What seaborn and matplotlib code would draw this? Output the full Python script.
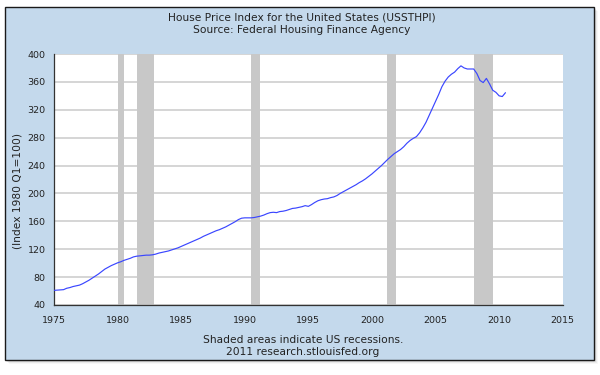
import numpy as np
import pandas as pd
import matplotlib
matplotlib.use('Agg')
import matplotlib.pyplot as plt
from matplotlib.patches import Rectangle
import seaborn as sns

# ========================================
# Данные (квартальные значения индекса, 1975Q1 - 2010Q3)
# ========================================
start_year = 1975
hpi = [
    61.0, 61.3, 61.6, 62.0,      # 1975
    64.0, 65.0, 66.5, 67.5,      # 1976
    68.5, 70.5, 73.0, 75.5,      # 1977
    78.5, 81.5, 84.5, 88.0,      # 1978
    91.5, 94.0, 96.5, 98.5,      # 1979
    100.5, 102.0, 104.0, 105.5,  # 1980
    107.0, 109.0, 110.0, 110.5,  # 1981
    111.0, 111.5, 111.5, 112.0,  # 1982
    113.0, 114.5, 115.5, 116.5,  # 1983
    117.5, 119.0, 120.5, 122.0,  # 1984
    124.0, 126.0, 128.0, 130.0,  # 1985
    132.0, 134.0, 136.0, 138.5,  # 1986
    140.5, 142.5, 144.5, 146.5,  # 1987
    148.0, 150.0, 152.0, 154.5,  # 1988
    157.0, 159.5, 162.5, 164.5,  # 1989
    165.0, 165.0, 165.0, 165.5,  # 1990
    166.5, 167.5, 169.0, 171.0,  # 1991
    172.5, 173.0, 172.5, 174.0,  # 1992
    174.5, 175.5, 177.0, 178.5,  # 1993
    179.0, 180.0, 181.0, 182.5,  # 1994
    181.5, 184.0, 187.0, 189.5,  # 1995
    191.0, 192.0, 192.5, 194.0,  # 1996
    195.0, 197.0, 200.0, 202.5,  # 1997
    205.0, 207.5, 210.0, 212.5,  # 1998
    215.5, 218.0, 221.0, 224.5,  # 1999
    228.0, 232.0, 236.0, 240.0,  # 2000
    244.5, 249.0, 253.0, 257.0,  # 2001
    260.0, 263.0, 267.0, 272.0,  # 2002
    276.0, 279.0, 281.5, 287.0,  # 2003
    294.0, 302.0, 312.0, 322.0,  # 2004
    332.0, 342.0, 353.0, 361.0,  # 2005
    367.0, 371.0, 374.0, 379.0,  # 2006
    383.0, 380.0, 378.5, 378.5,  # 2007
    378.5, 372.0, 362.0, 359.0,  # 2008
    365.0, 357.0, 348.0, 345.0,  # 2009
    340.0, 339.0, 344.5,         # 2010
]

# Рецессии (доли года)
rec_start = [1980.0, 1981.5, 1990.5, 2001.2, 2008.0]
rec_end = [1980.5, 1982.9, 1991.2, 2001.9, 2009.5]

y_ticks = [40, 80, 120, 160, 200, 240, 280, 320, 360, 400]
x_ticks = [1975, 1980, 1985, 1990, 1995, 2000, 2005, 2010, 2015]

title = 'House Price Index for the United States (USSTHPI)\nSource: Federal Housing Finance Agency'
ylabel = '(Index 1980 Q1=100)'
footer = 'Shaded areas indicate US recessions.\n2011 research.stlouisfed.org'

df = pd.DataFrame({'date': start_year + np.arange(len(hpi)) / 4.0, 'value': hpi})

# ========================================
# Оформление
# ========================================
sns.set_style('white')
plt.rcParams['font.family'] = ['DejaVu Sans']

W, H = 600, 375
fig = plt.figure(figsize=(6, 3.75), dpi=100)
fig.patch.set_facecolor('white')

# тень рамки
for i, a in enumerate([0.10, 0.07, 0.05, 0.03]):
    off = i + 1
    fig.patches.append(Rectangle(((5 + off) / W, (375 - 360 - off) / H), 589 / W, 353 / H,
                                 transform=fig.transFigure, facecolor='#000000', alpha=a,
                                 edgecolor='none', zorder=-3))
# голубая рамка
fig.patches.append(Rectangle((5 / W, (375 - 360) / H), 589 / W, 353 / H,
                             transform=fig.transFigure, facecolor='#c4d9ec',
                             edgecolor='#1a1a1a', linewidth=1.0, zorder=-2))

ax = fig.add_axes([54 / W, (375 - 305) / H, (562.7 - 54) / W, (305 - 54) / H])
ax.set_facecolor('white')

for s, e in zip(rec_start, rec_end):
    ax.axvspan(s, e, color='#c8c8c8', lw=0, zorder=1)

for yt in y_ticks:
    ax.axhline(yt, color='#cacaca', lw=1.1, zorder=0.5)

sns.lineplot(data=df, x='date', y='value', ax=ax, color='#3a46ff', lw=0.85, zorder=3)

ax.set_xlim(1975, 2015)
ax.set_ylim(40, 400)
ax.set_xticks(x_ticks)
ax.set_yticks(y_ticks)
ax.set_xlabel('')
ax.set_ylabel('')
ax.tick_params(axis='x', direction='in', length=5, width=0.8, color='#333333',
               labelsize=6.8, labelcolor='#222222', pad=8)
ax.tick_params(axis='y', direction='out', length=4, width=0.8, color='#333333',
               labelsize=6.8, labelcolor='#222222', pad=2)

for side in ['top', 'right']:
    ax.spines[side].set_visible(False)
for side in ['left', 'bottom']:
    ax.spines[side].set_color('#333333')
    ax.spines[side].set_linewidth(0.9)

fig.text(302 / W, 1 - 24 / H, title, ha='center', va='center', fontsize=7.7,
         color='#222222', linespacing=1.25)
fig.text(18 / W, 1 - 191 / H, ylabel, ha='center', va='center', rotation=90,
         fontsize=7.7, color='#222222')
fig.text(303 / W, 1 - 346 / H, footer, ha='center', va='center', fontsize=7.7,
         color='#222222', linespacing=1.25)

fig.savefig('out.png', dpi=100)
